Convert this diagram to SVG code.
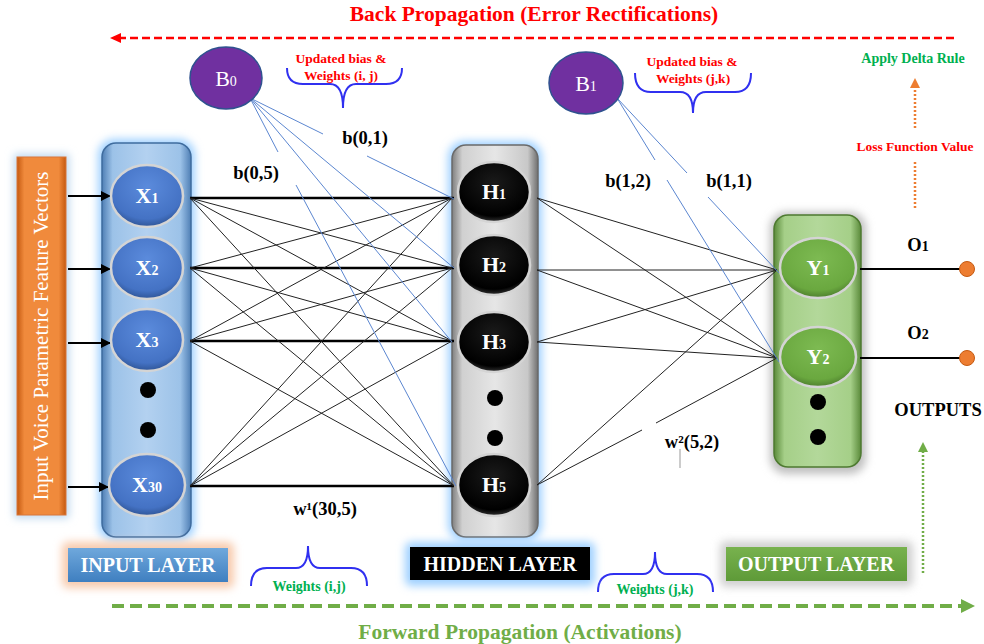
<svg xmlns="http://www.w3.org/2000/svg" width="984" height="644" viewBox="0 0 984 644">
<defs>
  <filter id="blur" x="-30%" y="-30%" width="160%" height="160%"><feGaussianBlur stdDeviation="4"/></filter>
  <filter id="blur2" x="-10%" y="-200%" width="120%" height="500%"><feGaussianBlur stdDeviation="2.5"/></filter>
  <linearGradient id="gIn" x1="0" x2="1" y1="0" y2="0">
    <stop offset="0" stop-color="#4F7FB5"/><stop offset="0.12" stop-color="#9CC2E8"/><stop offset="0.5" stop-color="#B3D1F0"/><stop offset="0.88" stop-color="#9CC2E8"/><stop offset="1" stop-color="#4F7FB5"/>
  </linearGradient>
  <linearGradient id="gHid" x1="0" x2="1" y1="0" y2="0">
    <stop offset="0" stop-color="#7F7F7F"/><stop offset="0.12" stop-color="#D0D0D0"/><stop offset="0.5" stop-color="#E6E6E6"/><stop offset="0.88" stop-color="#C8C8C8"/><stop offset="1" stop-color="#6F6F6F"/>
  </linearGradient>
  <linearGradient id="gOut" x1="0" x2="1" y1="0" y2="0">
    <stop offset="0" stop-color="#5A8A3A"/><stop offset="0.12" stop-color="#A5CF88"/><stop offset="0.5" stop-color="#B3D89A"/><stop offset="0.88" stop-color="#A5CF88"/><stop offset="1" stop-color="#5A8A3A"/>
  </linearGradient>
  <linearGradient id="gOrange" x1="0" x2="1" y1="0" y2="0">
    <stop offset="0" stop-color="#C55A11"/><stop offset="0.15" stop-color="#F08A3C"/><stop offset="0.85" stop-color="#F08A3C"/><stop offset="1" stop-color="#C55A11"/>
  </linearGradient>
  <radialGradient id="rBlue" cx="0.5" cy="0.35" r="0.65">
    <stop offset="0" stop-color="#5B8BDC"/><stop offset="0.8" stop-color="#4472C4"/><stop offset="1" stop-color="#2F5597"/>
  </radialGradient>
  <radialGradient id="rBlack" cx="0.5" cy="0.35" r="0.65">
    <stop offset="0" stop-color="#1A1A1A"/><stop offset="0.85" stop-color="#000000"/><stop offset="1" stop-color="#333333"/>
  </radialGradient>
  <radialGradient id="rGreen" cx="0.5" cy="0.35" r="0.65">
    <stop offset="0" stop-color="#7DBA52"/><stop offset="0.8" stop-color="#6AA83F"/><stop offset="1" stop-color="#4E7F2E"/>
  </radialGradient>
  <linearGradient id="gLblBlue" x1="0" x2="0" y1="0" y2="1">
    <stop offset="0" stop-color="#6FA8DC"/><stop offset="1" stop-color="#3F7FC0"/>
  </linearGradient>
  <linearGradient id="gLblGreen" x1="0" x2="0" y1="0" y2="1">
    <stop offset="0" stop-color="#78B24E"/><stop offset="1" stop-color="#5E9A38"/>
  </linearGradient>
  <marker id="ahB" viewBox="0 0 10 10" refX="9" refY="5" markerWidth="5" markerHeight="5" orient="auto">
    <path d="M0,0 L10,5 L0,10 z" fill="#000"/>
  </marker>
  <style>
    .conn{stroke:#222;stroke-width:1;fill:none}
    .thick{stroke:#000;stroke-width:2.5;fill:none}
    .bias{stroke:#5B86D0;stroke-width:1;fill:none}
    .node{stroke:#D4D4D4;stroke-width:2.5}
    .nt{font-family:"Liberation Serif",serif;font-weight:bold;fill:#fff;font-size:22px;text-anchor:middle}
    .sub{font-size:14px}
    .lbl{font-family:"Liberation Serif",serif;font-weight:bold;fill:#000;font-size:18.5px;text-anchor:middle}
    .red{font-family:"Liberation Serif",serif;font-weight:bold;fill:#FF0000;font-size:13.5px;text-anchor:middle}
    .grn{font-family:"Liberation Serif",serif;font-weight:bold;fill:#00B050;font-size:14px;text-anchor:middle}
    .brace{stroke:#3030F0;stroke-width:2;fill:none}
    .dot{fill:#000}
    .layer{font-family:"Liberation Serif",serif;font-weight:bold;fill:#fff;font-size:20px;text-anchor:middle}
  </style>
</defs>
<rect width="984" height="644" fill="#fff"/>

<!-- Top back-propagation arrow -->
<g id="back-propagation">
  <line x1="108" y1="38" x2="960" y2="38" stroke="#F8B58A" stroke-width="10" filter="url(#blur2)"/>
  <line x1="118" y1="38" x2="955" y2="38" stroke="#FF0000" stroke-width="2.5" stroke-dasharray="8,4"/>
  <polygon points="110,38 121,33 121,43" fill="#FF0000"/>
  <text x="534" y="21" font-family="Liberation Serif,serif" font-weight="bold" font-size="21.5" fill="#FF0000" text-anchor="middle">Back Propagation (Error Rectifications)</text>
</g>

<!-- Bottom forward-propagation arrow -->
<g id="forward-propagation">
  <line x1="106" y1="606" x2="978" y2="606" stroke="#C5E0B4" stroke-width="12" filter="url(#blur2)"/>
  <line x1="112" y1="606" x2="962" y2="606" stroke="#70AD47" stroke-width="4" stroke-dasharray="12,6"/>
  <polygon points="975,606 961,599 961,613" fill="#70AD47"/>
  <text x="520" y="639" font-family="Liberation Serif,serif" font-weight="bold" font-size="21.5" fill="#70AD47" text-anchor="middle">Forward Propagation (Activations)</text>
</g>

<!-- Orange input bar -->
<g id="input-vector-bar">
  <rect x="14" y="154" width="55" height="364" fill="#BDD7EE" filter="url(#blur)"/>
  <rect x="17" y="157" width="49" height="358" fill="url(#gOrange)" stroke="#D9773A" stroke-width="1"/>
  <text transform="translate(48,336) rotate(-90)" font-family="Liberation Serif,serif" font-size="21" fill="#fff" text-anchor="middle">Input Voice Parametric Feature Vectors</text>
</g>

<!-- Panels -->
<g id="input-panel">
  <rect x="98" y="139" width="97" height="402" rx="16" fill="#9FD0FF" filter="url(#blur)"/>
  <rect x="102" y="143" width="89" height="394" rx="14" fill="url(#gIn)" stroke="#3F6C9E" stroke-width="1.5"/>
</g>
<g id="hidden-panel">
  <rect x="448" y="141" width="94" height="400" rx="16" fill="#9FD0FF" filter="url(#blur)"/>
  <rect x="452" y="145" width="86" height="392" rx="14" fill="url(#gHid)" stroke="#6A6A6A" stroke-width="1.5"/>
</g>
<g id="output-panel">
  <rect x="770" y="212" width="96" height="262" rx="16" fill="#BFBFBF" filter="url(#blur)"/>
  <rect x="774" y="215" width="87" height="252" rx="14" fill="url(#gOut)" stroke="#4E7A30" stroke-width="1.5"/>
</g>

<!-- Connectors -->
<g id="connectors">
  <line x1="68" y1="196" x2="110" y2="196" stroke="#000" stroke-width="2" marker-end="url(#ahB)"/>
  <line x1="68" y1="269" x2="110" y2="269" stroke="#000" stroke-width="2" marker-end="url(#ahB)"/>
  <line x1="68" y1="343" x2="110" y2="343" stroke="#000" stroke-width="2" marker-end="url(#ahB)"/>
  <line x1="68" y1="487" x2="108" y2="487" stroke="#000" stroke-width="2" marker-end="url(#ahB)"/>
  <line class="thick" x1="190" y1="198" x2="454" y2="198"/>
  <line class="thick" x1="190" y1="268" x2="454" y2="268"/>
  <line class="thick" x1="190" y1="341" x2="454" y2="341"/>
  <line class="thick" x1="190" y1="486" x2="454" y2="486"/>
  <line class="conn" x1="190" y1="198" x2="452" y2="268"/>
  <line class="conn" x1="190" y1="198" x2="452" y2="341"/>
  <line class="conn" x1="190" y1="198" x2="454" y2="486"/>
  <line class="conn" x1="190" y1="268" x2="452" y2="198"/>
  <line class="conn" x1="190" y1="268" x2="452" y2="341"/>
  <line class="conn" x1="190" y1="268" x2="454" y2="486"/>
  <line class="conn" x1="190" y1="341" x2="452" y2="198"/>
  <line class="conn" x1="190" y1="341" x2="452" y2="268"/>
  <line class="conn" x1="190" y1="341" x2="454" y2="486"/>
  <line class="conn" x1="190" y1="486" x2="452" y2="198"/>
  <line class="conn" x1="190" y1="486" x2="452" y2="268"/>
  <line class="conn" x1="190" y1="486" x2="452" y2="341"/>
  <line class="conn" x1="537" y1="198" x2="777" y2="270"/>
  <line class="conn" x1="537" y1="198" x2="777" y2="358"/>
  <line class="conn" x1="537" y1="270" x2="777" y2="270"/>
  <line class="conn" x1="537" y1="270" x2="777" y2="358"/>
  <line class="conn" x1="537" y1="342" x2="777" y2="270"/>
  <line class="conn" x1="537" y1="342" x2="777" y2="358"/>
  <line class="conn" x1="537" y1="485" x2="777" y2="270"/>
  <line class="conn" x1="537" y1="485" x2="642" y2="430"/>
  <line class="conn" x1="656" y1="423" x2="777" y2="358"/>
  <line x1="680" y1="449" x2="680" y2="468" stroke="#999" stroke-width="1"/>
  <line class="bias" x1="250" y1="98" x2="323" y2="134"/>
  <line class="bias" x1="367" y1="156" x2="454" y2="199"/>
  <line class="bias" x1="250" y1="98" x2="454" y2="268"/>
  <line class="bias" x1="250" y1="98" x2="452" y2="342"/>
  <line class="bias" x1="250" y1="98" x2="278" y2="152"/>
  <line class="bias" x1="296" y1="185" x2="456" y2="486"/>
  <line class="bias" x1="617" y1="98" x2="687" y2="173"/>
  <line class="bias" x1="708" y1="197" x2="779" y2="273"/>
  <line class="bias" x1="617" y1="98" x2="655" y2="160"/>
  <line class="bias" x1="667" y1="180" x2="779" y2="362"/>
  <line x1="860" y1="269" x2="962" y2="269" stroke="#000" stroke-width="2"/>
  <line x1="860" y1="358" x2="962" y2="358" stroke="#000" stroke-width="2"/>
  <line x1="915" y1="128" x2="915" y2="88" stroke="#ED7D31" stroke-width="2.5" stroke-dasharray="2,2"/>
  <polygon points="915,78 910,88 920,88" fill="#ED7D31"/>
  <line x1="915" y1="162" x2="915" y2="208" stroke="#ED7D31" stroke-width="2.5" stroke-dasharray="2,2"/>
  <line x1="923" y1="573" x2="923" y2="452" stroke="#70AD47" stroke-width="2.5" stroke-dasharray="2,2"/>
  <polygon points="923,442 918,452 928,452" fill="#70AD47"/>
</g>

<!-- Output terminals -->
<g id="o1">
  <circle cx="967" cy="269" r="7.5" fill="#ED7D31" stroke="#C55A11" stroke-width="1"/>
  <text class="lbl" x="918" y="251">O<tspan class="sub">1</tspan></text>
</g>
<g id="o2">
  <circle cx="967" cy="358" r="7.5" fill="#ED7D31" stroke="#C55A11" stroke-width="1"/>
  <text class="lbl" x="918" y="339">O<tspan class="sub">2</tspan></text>
</g>
<text class="lbl" x="938" y="416" font-size="19.5">OUTPUTS</text>

<!-- Input nodes -->
<g id="x1"><ellipse class="node" cx="147" cy="196" rx="36" ry="31" fill="url(#rBlue)"/><text class="nt" x="147" y="203">X<tspan class="sub">1</tspan></text></g>
<g id="x2"><ellipse class="node" cx="147" cy="268" rx="36" ry="31" fill="url(#rBlue)"/><text class="nt" x="147" y="275">X<tspan class="sub">2</tspan></text></g>
<g id="x3"><ellipse class="node" cx="147" cy="340" rx="36" ry="31" fill="url(#rBlue)"/><text class="nt" x="147" y="347">X<tspan class="sub">3</tspan></text></g>
<g id="x-dots"><circle class="dot" cx="148" cy="390" r="8"/><circle class="dot" cx="148" cy="430" r="8"/></g>
<g id="x30"><ellipse class="node" cx="147" cy="485" rx="38" ry="31" fill="url(#rBlue)"/><text class="nt" x="147" y="492">X<tspan class="sub">30</tspan></text></g>

<!-- Hidden nodes -->
<g id="h1"><ellipse class="node" cx="494" cy="192" rx="36" ry="30" fill="url(#rBlack)"/><text class="nt" x="494" y="199">H<tspan class="sub">1</tspan></text></g>
<g id="h2"><ellipse class="node" cx="494" cy="265" rx="36" ry="30" fill="url(#rBlack)"/><text class="nt" x="494" y="272">H<tspan class="sub">2</tspan></text></g>
<g id="h3"><ellipse class="node" cx="494" cy="342" rx="36" ry="30" fill="url(#rBlack)"/><text class="nt" x="494" y="349">H<tspan class="sub">3</tspan></text></g>
<g id="h-dots"><circle class="dot" cx="495" cy="398" r="8"/><circle class="dot" cx="495" cy="438" r="8"/></g>
<g id="h5"><ellipse class="node" cx="494" cy="485" rx="36" ry="31" fill="url(#rBlack)"/><text class="nt" x="494" y="492">H<tspan class="sub">5</tspan></text></g>

<!-- Output nodes -->
<g id="y1"><ellipse class="node" cx="818" cy="268" rx="38" ry="30" fill="url(#rGreen)"/><text class="nt" x="818" y="275">Y<tspan class="sub">1</tspan></text></g>
<g id="y2"><ellipse class="node" cx="818" cy="357" rx="38" ry="30" fill="url(#rGreen)"/><text class="nt" x="818" y="364">Y<tspan class="sub">2</tspan></text></g>
<g id="y-dots"><circle class="dot" cx="818" cy="402" r="8"/><circle class="dot" cx="818" cy="437" r="8"/></g>

<!-- Bias nodes -->
<g id="b0"><ellipse cx="226" cy="78" rx="36" ry="31" fill="#7030A0" stroke="#2F528F" stroke-width="1.5"/><text x="226" y="86" font-family="Liberation Serif,serif" font-size="22" fill="#fff" text-anchor="middle">B<tspan font-size="14">0</tspan></text></g>
<g id="b1"><ellipse cx="586" cy="83" rx="37" ry="31" fill="#7030A0" stroke="#2F528F" stroke-width="1.5"/><text x="586" y="91" font-family="Liberation Serif,serif" font-size="22" fill="#fff" text-anchor="middle">B<tspan font-size="14">1</tspan></text></g>

<!-- Connector labels -->
<g id="connector-labels">
  <text class="lbl" x="365" y="144">b(0,1)</text>
  <text class="lbl" x="256" y="179">b(0,5)</text>
  <text class="lbl" x="628" y="187">b(1,2)</text>
  <text class="lbl" x="729" y="187">b(1,1)</text>
  <text class="lbl" x="325" y="515">w¹(30,5)</text>
  <text class="lbl" x="692" y="448">w²(5,2)</text>
</g>

<!-- Braces and annotations -->
<g id="brace-ij-top">
  <path class="brace" d="M287,68 Q287,84 303,84 L330,84 Q343,84 343,108 Q343,84 356,84 L386,84 Q402,84 402,68"/>
  <text class="red" x="341" y="63">Updated bias &amp;</text>
  <text class="red" x="341" y="80">Weights (i, j)</text>
</g>
<g id="brace-jk-top">
  <path class="brace" d="M635,73 Q635,92 651,92 L680,92 Q693,92 693,113 Q693,92 706,92 L735,92 Q751,92 751,73"/>
  <text class="red" x="692" y="66">Updated bias &amp;</text>
  <text class="red" x="693" y="83">Weights (j,k)</text>
</g>
<g id="brace-ij-bottom">
  <path class="brace" d="M251,586 Q251,568 267,568 L296,568 Q308,568 308,546 Q308,568 320,568 L351,568 Q367,568 367,586"/>
  <text class="grn" x="309" y="591">Weights (i,j)</text>
</g>
<g id="brace-jk-bottom">
  <path class="brace" d="M598,592 Q598,574 614,574 L643,574 Q655,574 655,552 Q655,574 667,574 L697,574 Q713,574 713,592"/>
  <text class="grn" x="655" y="594">Weights (j,k)</text>
</g>
<text class="grn" x="913" y="63" font-size="13.5">Apply Delta Rule</text>
<text class="red" x="915" y="151" font-size="14">Loss Function Value</text>

<!-- Layer labels -->
<g id="input-layer-label">
  <rect x="62" y="542" width="172" height="46" rx="6" fill="#F8CBAD" filter="url(#blur)"/>
  <rect x="68" y="548" width="160" height="34" fill="url(#gLblBlue)"/>
  <text class="layer" x="148" y="572">INPUT LAYER</text>
</g>
<g id="hidden-layer-label">
  <rect x="405" y="542" width="190" height="44" rx="6" fill="#9FD0FF" filter="url(#blur)"/>
  <rect x="410" y="547" width="180" height="33" fill="#000"/>
  <text class="layer" x="500" y="571">HIDDEN LAYER</text>
</g>
<g id="output-layer-label">
  <rect x="720" y="541" width="193" height="46" rx="6" fill="#D0D0D0" filter="url(#blur)"/>
  <rect x="726" y="547" width="181" height="34" fill="url(#gLblGreen)"/>
  <text class="layer" x="816" y="571">OUTPUT LAYER</text>
</g>
</svg>
